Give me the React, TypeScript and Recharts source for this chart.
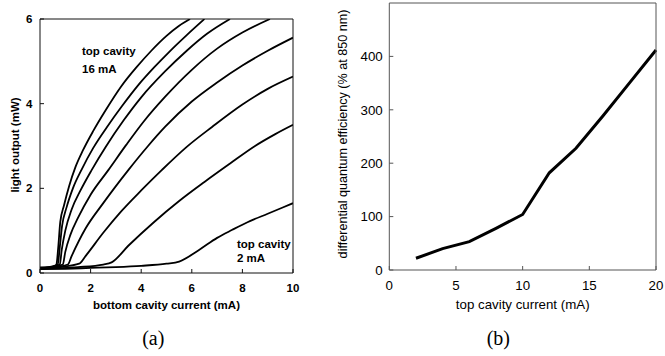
import React from 'react';
import { LineChart, Line, XAxis, YAxis } from 'recharts';

// ---------- panel (a): light output vs bottom cavity current ----------
const bottomCurrentTicks = [0, 2, 4, 6, 8, 10];
const lightOutputTicks = [0, 2, 4, 6];

// [bottom cavity current (mA), light output (mW)]
const top16mA: [number, number][] = [[0, 0.12], [0.3, 0.13], [0.6, 0.17], [0.65, 0.2], [0.72, 0.6], [0.8, 1.2], [0.95, 1.6], [1.15, 2.05], [1.4, 2.5], [1.7, 2.9], [2.1, 3.35], [2.6, 3.85], [3.2, 4.4], [3.8, 4.85], [4.4, 5.25], [5.0, 5.6], [5.5, 5.84], [5.93, 6.0]];
const top14mA: [number, number][] = [[0, 0.13], [0.35, 0.14], [0.7, 0.2], [0.78, 0.6], [0.87, 1.1], [1.05, 1.55], [1.3, 2.0], [1.65, 2.45], [2.1, 2.95], [2.65, 3.45], [3.25, 3.95], [3.9, 4.45], [4.5, 4.85], [5.1, 5.22], [5.8, 5.62], [6.5, 6.0]];
const top12mA: [number, number][] = [[0, 0.11], [0.4, 0.13], [0.78, 0.2], [0.86, 0.55], [1.0, 1.0], [1.25, 1.5], [1.6, 1.95], [2.04, 2.43], [2.62, 3.0], [3.3, 3.6], [4.0, 4.15], [4.94, 4.76], [5.8, 5.25], [6.6, 5.65], [7.51, 6.0]];
const top10mA: [number, number][] = [[0, 0.12], [0.5, 0.14], [0.9, 0.2], [1.0, 0.5], [1.2, 0.9], [1.5, 1.3], [2.0, 1.85], [2.7, 2.43], [3.4, 3.02], [4.1, 3.58], [4.94, 4.16], [6.0, 4.8], [7.0, 5.3], [8.0, 5.68], [9.09, 6.0]];
const top8mA: [number, number][] = [[0, 0.1], [0.6, 0.14], [1.1, 0.2], [1.25, 0.4], [1.8, 1.05], [2.5, 1.65], [3.49, 2.43], [4.27, 3.0], [4.94, 3.45], [6.0, 4.05], [7.0, 4.5], [8.0, 4.9], [9.0, 5.25], [10, 5.56]];
const top6mA: [number, number][] = [[0, 0.1], [0.8, 0.14], [1.55, 0.22], [1.8, 0.4], [2.5, 0.95], [3.2, 1.45], [4.0, 1.95], [4.81, 2.43], [5.8, 2.98], [6.8, 3.45], [8.0, 3.98], [9.0, 4.35], [10, 4.64]];
const top4mA: [number, number][] = [[0, 0.1], [1.5, 0.14], [2.5, 0.2], [2.83, 0.25], [3.5, 0.65], [4.5, 1.2], [5.5, 1.7], [6.5, 2.15], [7.5, 2.58], [8.5, 3.0], [9.3, 3.28], [10, 3.5]];
const top2mA: [number, number][] = [[0, 0.09], [1, 0.1], [2, 0.12], [3, 0.14], [4, 0.17], [5, 0.22], [5.5, 0.27], [6.3, 0.55], [7.0, 0.83], [7.6, 1.02], [8.2, 1.2], [9, 1.4], [10, 1.65]];

const lightCurves = [
  { name: '16 mA', pts: top16mA },
  { name: '14 mA', pts: top14mA },
  { name: '12 mA', pts: top12mA },
  { name: '10 mA', pts: top10mA },
  { name: '8 mA', pts: top8mA },
  { name: '6 mA', pts: top6mA },
  { name: '4 mA', pts: top4mA },
  { name: '2 mA', pts: top2mA },
];

// ---------- panel (b): differential quantum efficiency ----------
const topCurrentTicks = [0, 5, 10, 15, 20];
const efficiencyTicks = [0, 100, 200, 300, 400];
const topCavityCurrent = [2, 4, 6, 8, 10, 12, 14, 16, 18, 20];
const quantumEfficiency = [22, 40, 53, 78, 104, 182, 228, 288, 350, 412];

const efficiencyData = topCavityCurrent.map((c, i) => ({ current: c, eff: quantumEfficiency[i] }));

const SANS = "'Liberation Sans', Arial, Helvetica, sans-serif";
const SERIF = "'Liberation Serif', 'Times New Roman', serif";

const leftTick = { fill: '#000', fontSize: 11.5, fontWeight: 700, fontFamily: SANS };
const rightTick = { fill: '#000', fontSize: 13.3, fontFamily: SANS };

export default function App() {
  return (
    <div style={{ position: 'absolute', left: 0, top: 0, width: 665, height: 356, background: '#fff', overflow: 'hidden' }}>
      <div style={{ position: 'absolute', left: 0, top: 0 }}>
        <LineChart width={330} height={356} margin={{ top: 14, right: 32, bottom: 53, left: 10 }}>
          <XAxis xAxisId="b" type="number" dataKey="x" domain={[0, 10]} ticks={bottomCurrentTicks} interval={0}
            height={30} tickSize={-4} tickMargin={14.5} stroke="#111" tick={leftTick} allowDataOverflow />
          <XAxis xAxisId="t" orientation="top" type="number" dataKey="x" domain={[0, 10]} ticks={bottomCurrentTicks} interval={0}
            height={5} tickSize={-4} stroke="#111" tick={false} allowDataOverflow />
          <YAxis yAxisId="l" type="number" domain={[0, 6]} ticks={lightOutputTicks} interval={0}
            width={30} tickSize={-4} tickMargin={11.5} stroke="#111" tick={leftTick} allowDataOverflow />
          <YAxis yAxisId="r" orientation="right" type="number" domain={[0, 6]} ticks={lightOutputTicks} interval={0}
            width={5} tickSize={-4} stroke="#111" tick={false} allowDataOverflow />
          {lightCurves.map((c) => (
            <Line key={c.name} name={c.name} xAxisId="b" yAxisId="l" data={c.pts.map(([x, y]) => ({ x, y }))}
              dataKey="y" type="monotone" stroke="#000" strokeWidth={1.8} dot={false} activeDot={false}
              isAnimationActive={false} />
          ))}
        </LineChart>
      </div>
      <div style={{ position: 'absolute', left: 330, top: 0 }}>
        <LineChart width={335} height={356} data={efficiencyData} margin={{ top: 1, right: 4, bottom: 56, left: 19.3 }}>
          <XAxis xAxisId="b" type="number" dataKey="current" domain={[0, 20]} ticks={topCurrentTicks} interval={0}
            height={30} tickSize={-4} tickMargin={15} stroke="#555" tick={rightTick} />
          <XAxis xAxisId="t" orientation="top" type="number" dataKey="current" domain={[0, 20]} ticks={topCurrentTicks} interval={0}
            height={2} tickSize={-4} stroke="#555" tick={false} />
          <YAxis yAxisId="l" type="number" domain={[0, 500]} ticks={efficiencyTicks} interval={0}
            width={40} tickSize={-4} tickMargin={10.6} stroke="#555" tick={rightTick} />
          <YAxis yAxisId="r" orientation="right" type="number" domain={[0, 500]} ticks={efficiencyTicks} interval={0}
            width={5} tickSize={-4} stroke="#555" tick={false} />
          <Line xAxisId="b" yAxisId="l" dataKey="eff" type="linear" stroke="#000" strokeWidth={3}
            dot={false} activeDot={false} isAnimationActive={false} />
        </LineChart>
      </div>
      <svg width={665} height={356} style={{ position: 'absolute', left: 0, top: 0, pointerEvents: 'none' }}>
        <g fontFamily={SANS} fontWeight={700} fontSize={11.5} fill="#000">
          <text x={166.5} y={309} textAnchor="middle">bottom cavity current (mA)</text>
          <text x={14.5} y={145} textAnchor="middle" dominantBaseline="central" transform="rotate(-90 14.5 145)">light output (mW)</text>
          <text x={82} y={55}>top cavity</text>
          <text x={82} y={73}>16 mA</text>
          <text x={237} y={247.5}>top cavity</text>
          <text x={237} y={262}>2 mA</text>
        </g>
        <g fontFamily={SANS} fill="#000">
          <text x={522.7} y={309} fontSize={13.3} textAnchor="middle">top cavity current (mA)</text>
          <text x={343} y={134} fontSize={12.6} textAnchor="middle" dominantBaseline="central" transform="rotate(-90 343 134)">differential quantum efficiency (% at 850 nm)</text>
        </g>
        <g fontFamily={SERIF} fontSize={20} fill="#000">
          <text x={153.3} y={344.5} textAnchor="middle">(a)</text>
          <text x={498.3} y={344.5} textAnchor="middle">(b)</text>
        </g>
      </svg>
    </div>
  );
}
